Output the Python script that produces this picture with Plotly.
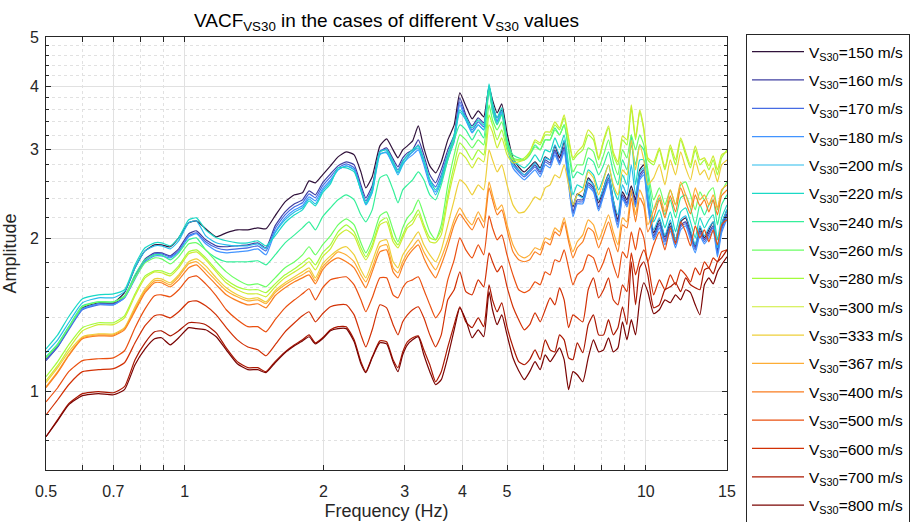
import math
import plotly.graph_objects as go

# Frequency axis (Hz)
freq = [0.50, 0.53, 0.56, 0.60, 0.65, 0.70, 0.74, 0.78, 0.82, 0.86, 0.89, 0.93, 0.97, 1.02, 1.06,
        1.11, 1.17, 1.23, 1.30, 1.37, 1.44, 1.50,
        1.57, 1.65, 1.73, 1.80, 1.86, 1.92, 1.99, 2.07,
        2.15, 2.24, 2.33, 2.41, 2.47, 2.55, 2.65, 2.74, 2.83, 2.90, 2.97, 3.04,
        3.12, 3.21, 3.30, 3.40, 3.50,
        3.60, 3.72, 3.84, 3.95, 4.07, 4.20, 4.33, 4.45, 4.57, 4.65, 4.76, 4.87, 5.00,
        5.15, 5.30, 5.45, 5.60, 5.75, 5.90, 6.05, 6.20, 6.35, 6.50, 6.65, 6.80, 6.95, 7.10,
        7.30, 7.50, 7.70, 7.90, 8.10, 8.30, 8.50, 8.70, 8.90, 9.10, 9.30, 9.50, 9.70, 9.90, 10.1,
        10.4, 10.7, 11.0, 11.3, 11.6, 11.9, 12.2, 12.5, 12.8, 13.1, 13.4, 13.7, 14.0, 14.3, 14.6, 15.0]

# Amplitude of VACF for each Vs30 case
amp_150 = [1.160, 1.230, 1.336, 1.462, 1.496, 1.496, 1.566, 1.753, 1.893, 1.946, 1.946, 1.929, 2.009, 2.151, 2.170,
           2.093, 2.018, 2.055, 2.083, 2.083, 2.102, 2.093,
           2.220, 2.365, 2.442, 2.464, 2.602, 2.579, 2.674, 2.785,
           2.901, 2.968, 2.928, 2.710, 2.521, 2.650, 3.050, 3.148, 2.995, 2.888, 2.995, 3.050,
           3.120, 3.339, 3.022, 2.785, 2.698,
           2.836, 3.134, 3.354, 3.879, 3.656, 3.447, 3.575, 3.479, 3.985, 3.757, 3.542, 3.689, 3.235,
           2.888, 2.773, 2.710, 2.773, 2.836, 2.760, 2.901, 2.862, 3.050, 2.888, 3.106, 2.674, 2.312, 2.453,
           2.420, 2.637, 2.555, 2.355, 2.521, 2.686, 2.387, 2.180, 2.475, 2.387, 2.544, 2.387, 2.735, 2.798, 2.420,
           2.055, 2.180, 2.018, 2.151, 1.991, 2.160, 2.200, 2.064, 1.937, 2.102, 2.009, 2.083, 2.160, 1.902, 2.131, 2.281]
amp_160 = [1.150, 1.224, 1.330, 1.455, 1.489, 1.489, 1.537, 1.690, 1.826, 1.876, 1.876, 1.851, 1.911, 2.046, 2.074,
           1.991, 1.937, 1.929, 1.937, 1.946, 1.964, 1.920,
           2.121, 2.260, 2.344, 2.387, 2.487, 2.442, 2.579, 2.686,
           2.785, 2.836, 2.798, 2.555, 2.409, 2.544, 2.968, 3.022, 2.875, 2.773, 2.888, 2.954,
           2.995, 3.134, 2.928, 2.674, 2.579,
           2.735, 2.995, 3.205, 3.792, 3.510, 3.339, 3.463, 3.385, 4.003, 3.673, 3.463, 3.591, 3.134,
           2.836, 2.735, 2.674, 2.735, 2.798, 2.710, 2.862, 2.823, 2.995, 2.836, 3.036, 2.614, 2.260, 2.387,
           2.387, 2.579, 2.521, 2.312, 2.475, 2.637, 2.333, 2.160, 2.442, 2.355, 2.498, 2.355, 2.674, 2.735, 2.387,
           2.027, 2.151, 1.991, 2.121, 1.964, 2.131, 2.160, 2.036, 1.920, 2.074, 1.991, 2.055, 2.121, 1.885, 2.102, 2.240]
amp_170 = [1.155, 1.224, 1.323, 1.449, 1.482, 1.482, 1.530, 1.675, 1.810, 1.868, 1.868, 1.843, 1.893, 2.027, 2.055,
           1.973, 1.920, 1.902, 1.911, 1.920, 1.937, 1.893,
           2.093, 2.230, 2.312, 2.355, 2.453, 2.409, 2.544, 2.650,
           2.760, 2.811, 2.760, 2.521, 2.376, 2.509, 2.981, 2.995, 2.836, 2.735, 2.849, 2.915,
           2.968, 3.064, 2.862, 2.614, 2.532,
           2.674, 2.941, 3.148, 3.723, 3.463, 3.279, 3.400, 3.324, 3.967, 3.623, 3.415, 3.559, 3.092,
           2.798, 2.710, 2.650, 2.710, 2.773, 2.686, 2.836, 2.798, 2.968, 2.823, 3.009, 2.590, 2.240, 2.365,
           2.365, 2.555, 2.498, 2.292, 2.453, 2.614, 2.312, 2.131, 2.420, 2.333, 2.475, 2.333, 2.637, 2.710, 2.355,
           2.009, 2.131, 1.973, 2.102, 1.946, 2.112, 2.141, 2.018, 1.902, 2.055, 1.973, 2.036, 2.102, 1.868, 2.083, 2.220]
amp_180 = [1.170, 1.236, 1.336, 1.455, 1.489, 1.482, 1.530, 1.667, 1.802, 1.851, 1.851, 1.834, 1.885, 2.018, 2.046,
           1.955, 1.893, 1.876, 1.885, 1.893, 1.911, 1.859,
           2.064, 2.200, 2.281, 2.323, 2.420, 2.376, 2.509, 2.614,
           2.735, 2.785, 2.735, 2.487, 2.344, 2.475, 2.941, 2.954, 2.798, 2.698, 2.811, 2.875,
           2.928, 2.995, 2.798, 2.555, 2.475,
           2.614, 2.888, 3.106, 3.673, 3.431, 3.235, 3.354, 3.279, 3.967, 3.591, 3.369, 3.526, 3.050,
           2.760, 2.674, 2.614, 2.674, 2.735, 2.650, 2.798, 2.760, 2.928, 2.798, 2.968, 2.555, 2.210, 2.344,
           2.344, 2.532, 2.475, 2.271, 2.431, 2.590, 2.292, 2.102, 2.398, 2.312, 2.453, 2.312, 2.614, 2.674, 2.323,
           1.991, 2.102, 1.946, 2.074, 1.920, 2.083, 2.121, 1.991, 1.876, 2.027, 1.955, 2.009, 2.074, 1.843, 2.055, 2.190]
amp_200 = [1.192, 1.264, 1.366, 1.496, 1.530, 1.530, 1.573, 1.753, 1.893, 1.937, 1.937, 1.911, 1.982, 2.151, 2.170,
           2.027, 1.964, 1.946, 1.937, 1.937, 1.955, 1.911,
           2.055, 2.180, 2.260, 2.302, 2.398, 2.344, 2.487, 2.590,
           2.735, 2.785, 2.735, 2.498, 2.333, 2.464, 2.928, 2.968, 2.798, 2.674, 2.798, 2.888,
           2.968, 3.022, 2.836, 2.590, 2.442,
           2.590, 2.862, 3.134, 3.559, 3.431, 3.249, 3.354, 3.279, 4.003, 3.623, 3.400, 3.559, 3.064,
           2.798, 2.735, 2.674, 2.735, 2.823, 2.735, 2.888, 2.862, 3.064, 2.928, 3.134, 2.674, 2.333, 2.442,
           2.409, 2.614, 2.555, 2.387, 2.521, 2.674, 2.387, 2.230, 2.555, 2.442, 2.798, 2.442, 2.710, 2.760, 2.442,
           2.083, 2.200, 2.027, 2.180, 1.991, 2.180, 2.220, 2.083, 1.946, 2.121, 2.027, 2.102, 2.160, 1.920, 2.141, 2.281]
amp_220 = [1.213, 1.293, 1.404, 1.523, 1.551, 1.558, 1.587, 1.777, 1.920, 1.964, 1.964, 1.937, 2.009, 2.180, 2.200,
           2.083, 2.009, 1.982, 1.964, 1.964, 1.982, 1.937,
           2.027, 2.151, 2.230, 2.281, 2.376, 2.323, 2.464, 2.567,
           2.760, 2.760, 2.710, 2.498, 2.355, 2.498, 2.968, 2.995, 2.836, 2.710, 2.836, 2.928,
           2.995, 3.050, 2.862, 2.614, 2.498,
           2.637, 2.928, 3.205, 3.591, 3.463, 3.309, 3.431, 3.354, 4.040, 3.706, 3.463, 3.623, 3.134,
           2.862, 2.798, 2.760, 2.823, 2.928, 2.836, 2.995, 2.968, 3.162, 3.022, 3.205, 2.798, 2.442, 2.555,
           2.521, 2.735, 2.674, 2.498, 2.637, 2.798, 2.521, 2.387, 2.674, 2.555, 3.205, 2.555, 2.862, 2.862, 2.555,
           2.160, 2.281, 2.102, 2.260, 2.064, 2.260, 2.302, 2.160, 2.009, 2.200, 2.102, 2.180, 2.230, 1.991, 2.200, 2.333]
amp_240 = [1.170, 1.241, 1.342, 1.475, 1.502, 1.502, 1.544, 1.698, 1.818, 1.859, 1.859, 1.818, 1.876, 1.991, 2.009,
           1.902, 1.834, 1.802, 1.802, 1.802, 1.810, 1.777,
           1.859, 1.964, 2.036, 2.102, 2.160, 2.083, 2.210, 2.302,
           2.387, 2.442, 2.387, 2.230, 2.160, 2.281, 2.637, 2.674, 2.498, 2.355, 2.498, 2.555,
           2.614, 2.710, 2.614, 2.442, 2.387,
           2.555, 2.862, 3.134, 3.354, 3.279, 3.134, 3.279, 3.162, 3.932, 3.559, 3.354, 3.510, 3.134,
           2.928, 2.888, 2.862, 2.928, 3.064, 2.995, 3.134, 3.134, 3.309, 3.205, 3.354, 2.995, 2.637, 2.710,
           2.674, 2.888, 2.836, 2.674, 2.798, 2.968, 2.710, 2.555, 2.862, 2.735, 3.064, 2.798, 3.064, 2.995, 2.674,
           2.281, 2.409, 2.230, 2.387, 2.200, 2.409, 2.442, 2.302, 2.131, 2.333, 2.230, 2.333, 2.387, 2.131, 2.333, 2.442]
amp_260 = [1.165, 1.236, 1.336, 1.469, 1.502, 1.502, 1.537, 1.675, 1.793, 1.834, 1.826, 1.785, 1.843, 1.955, 1.964,
           1.902, 1.802, 1.721, 1.660, 1.623, 1.630, 1.608,
           1.675, 1.753, 1.802, 1.859, 1.929, 1.859, 1.946, 2.027,
           2.131, 2.190, 2.131, 1.964, 1.876, 1.991, 2.220, 2.260, 2.083, 1.973, 2.102, 2.200,
           2.260, 2.387, 2.230, 2.064, 1.991,
           2.131, 2.555, 2.928, 3.205, 3.134, 3.022, 3.134, 3.064, 3.673, 3.431, 3.279, 3.400, 3.064,
           2.888, 2.862, 2.862, 2.928, 3.036, 2.995, 3.134, 3.134, 3.279, 3.205, 3.354, 3.022, 2.710, 2.798,
           2.798, 3.022, 2.968, 2.760, 2.928, 3.134, 2.836, 2.674, 2.995, 2.888, 3.205, 2.995, 3.205, 3.064, 2.735,
           2.387, 2.521, 2.333, 2.498, 2.333, 2.555, 2.590, 2.442, 2.281, 2.475, 2.387, 2.475, 2.521, 2.281, 2.475, 2.590]
amp_280 = [1.069, 1.145, 1.236, 1.336, 1.366, 1.366, 1.410, 1.558, 1.690, 1.729, 1.729, 1.706, 1.769, 1.885, 1.902,
           1.834, 1.737, 1.660, 1.608, 1.587, 1.587, 1.566,
           1.630, 1.698, 1.745, 1.793, 1.834, 1.777, 1.876, 1.946,
           2.064, 2.131, 2.064, 1.920, 1.843, 1.946, 2.160, 2.200, 2.009, 1.946, 2.036, 2.131,
           2.180, 2.281, 2.131, 2.009, 1.991,
           2.083, 2.442, 2.798, 3.092, 2.995, 2.862, 2.995, 2.928, 3.510, 3.354, 3.134, 3.279, 2.995,
           2.862, 2.862, 2.888, 2.968, 3.106, 3.064, 3.205, 3.205, 3.354, 3.279, 3.463, 3.134, 2.862, 2.928,
           2.995, 3.205, 3.134, 2.862, 3.106, 3.309, 2.928, 2.798, 3.134, 3.064, 3.623, 3.134, 3.559, 3.279, 2.862,
           2.798, 2.995, 2.735, 3.022, 2.798, 3.134, 2.928, 2.760, 2.995, 2.798, 2.862, 2.735, 2.862, 2.674, 2.888, 2.995]
amp_300 = [1.050, 1.124, 1.213, 1.317, 1.354, 1.354, 1.397, 1.544, 1.675, 1.721, 1.714, 1.690, 1.753, 1.868, 1.885,
           1.818, 1.721, 1.638, 1.587, 1.558, 1.558, 1.537,
           1.608, 1.675, 1.721, 1.761, 1.802, 1.737, 1.843, 1.911,
           2.027, 2.083, 2.027, 1.885, 1.818, 1.920, 2.131, 2.160, 1.973, 1.920, 2.009, 2.102,
           2.141, 2.240, 2.102, 1.973, 1.964,
           2.036, 2.387, 2.710, 2.954, 2.888, 2.760, 2.888, 2.836, 3.354, 3.249, 3.022, 3.162, 2.928,
           2.823, 2.836, 2.862, 2.954, 3.134, 3.092, 3.249, 3.249, 3.400, 3.309, 3.510, 3.162, 2.888, 2.968,
           3.050, 3.279, 3.191, 2.888, 3.134, 3.339, 2.968, 2.836, 3.191, 3.134, 3.673, 3.162, 3.591, 3.309, 2.888,
           2.836, 3.022, 2.760, 3.064, 2.862, 3.162, 2.968, 2.798, 3.050, 2.862, 2.888, 2.785, 2.915, 2.735, 2.928, 2.968]
amp_333 = [1.041, 1.114, 1.197, 1.282, 1.299, 1.299, 1.336, 1.469, 1.594, 1.667, 1.667, 1.638, 1.698, 1.802, 1.826,
           1.769, 1.675, 1.601, 1.551, 1.523, 1.530, 1.502,
           1.580, 1.638, 1.683, 1.721, 1.753, 1.675, 1.785, 1.851,
           1.902, 1.929, 1.859, 1.737, 1.675, 1.802, 1.973, 1.991, 1.802, 1.753, 1.859, 1.920,
           1.991, 2.064, 1.946, 1.859, 1.802,
           1.902, 2.131, 2.387, 2.614, 2.555, 2.442, 2.555, 2.498, 2.995, 2.862, 2.710, 2.798, 2.555,
           2.333, 2.250, 2.260, 2.333, 2.420, 2.387, 2.521, 2.555, 2.674, 2.637, 2.798, 2.555, 2.333, 2.442,
           2.498, 2.710, 2.637, 2.442, 2.614, 2.798, 2.555, 2.442, 2.735, 2.674, 3.134, 2.735, 3.064, 2.862, 2.555,
           2.637, 2.798, 2.555, 2.862, 2.674, 2.968, 2.760, 2.614, 2.862, 2.674, 2.735, 2.614, 2.760, 2.590, 2.798, 2.862]
amp_367 = [1.022, 1.094, 1.181, 1.276, 1.293, 1.293, 1.330, 1.455, 1.580, 1.652, 1.652, 1.623, 1.683, 1.785, 1.802,
           1.737, 1.652, 1.580, 1.537, 1.509, 1.516, 1.489,
           1.566, 1.623, 1.667, 1.698, 1.729, 1.652, 1.761, 1.826,
           1.885, 1.859, 1.802, 1.698, 1.645, 1.753, 1.929, 1.946, 1.753, 1.714, 1.802, 1.876,
           1.929, 1.991, 1.885, 1.802, 1.737,
           1.834, 1.991, 2.180, 2.302, 2.200, 2.131, 2.260, 2.160, 2.590, 2.442, 2.281, 2.333, 2.131,
           1.946, 1.859, 1.834, 1.859, 1.920, 1.902, 2.009, 1.991, 2.102, 2.064, 2.200, 2.009, 1.885, 1.973,
           2.036, 2.180, 2.131, 1.991, 2.102, 2.230, 2.064, 1.946, 2.200, 2.160, 2.498, 2.230, 2.498, 2.387, 2.131,
           2.281, 2.442, 2.260, 2.498, 2.333, 2.590, 2.442, 2.302, 2.521, 2.387, 2.442, 2.333, 2.442, 2.302, 2.498, 2.555]
amp_400 = [1.017, 1.089, 1.176, 1.270, 1.287, 1.287, 1.323, 1.442, 1.566, 1.638, 1.638, 1.608, 1.660, 1.753, 1.777,
           1.706, 1.623, 1.551, 1.509, 1.482, 1.489, 1.462,
           1.544, 1.601, 1.645, 1.675, 1.698, 1.630, 1.737, 1.802,
           1.834, 1.802, 1.753, 1.660, 1.601, 1.721, 1.885, 1.902, 1.721, 1.675, 1.769, 1.843,
           1.902, 1.946, 1.834, 1.737, 1.675,
           1.777, 1.937, 2.131, 2.240, 2.160, 2.083, 2.200, 2.102, 2.521, 2.387, 2.230, 2.281, 2.083,
           1.885, 1.818, 1.802, 1.818, 1.885, 1.859, 1.973, 1.946, 2.064, 2.027, 2.160, 1.973, 1.834, 1.920,
           1.973, 2.102, 2.064, 1.920, 2.036, 2.160, 2.009, 1.885, 2.131, 2.102, 2.409, 2.160, 2.409, 2.323, 2.064,
           2.200, 2.387, 2.200, 2.431, 2.260, 2.521, 2.365, 2.240, 2.442, 2.323, 2.387, 2.260, 2.387, 2.230, 2.431, 2.498]
amp_500 = [0.954, 1.017, 1.094, 1.150, 1.160, 1.165, 1.203, 1.336, 1.455, 1.544, 1.551, 1.537, 1.587, 1.675, 1.690,
           1.630, 1.544, 1.449, 1.385, 1.342, 1.342, 1.311,
           1.385, 1.462, 1.516, 1.558, 1.594, 1.516, 1.601, 1.660,
           1.675, 1.683, 1.623, 1.516, 1.436, 1.530, 1.675, 1.675, 1.551, 1.530, 1.601, 1.645,
           1.660, 1.683, 1.587, 1.482, 1.397,
           1.449, 1.660, 1.818, 2.009, 1.902, 1.834, 1.946, 1.859, 2.220, 2.102, 1.991, 2.036, 1.859,
           1.698, 1.587, 1.566, 1.587, 1.645, 1.623, 1.721, 1.698, 1.818, 1.802, 1.902, 1.753, 1.623, 1.698,
           1.737, 1.859, 1.834, 1.721, 1.802, 1.920, 1.777, 1.675, 1.885, 1.834, 2.064, 1.902, 2.102, 2.009, 1.802,
           1.946, 2.064, 1.902, 2.102, 1.955, 2.160, 2.064, 1.937, 2.121, 2.009, 2.083, 1.973, 2.083, 1.946, 2.131, 2.180]
amp_600 = [0.899, 0.963, 1.031, 1.094, 1.104, 1.109, 1.139, 1.247, 1.348, 1.410, 1.416, 1.397, 1.436, 1.502, 1.509,
           1.475, 1.416, 1.336, 1.264, 1.224, 1.208, 1.176,
           1.236, 1.311, 1.366, 1.410, 1.436, 1.372, 1.423, 1.469,
           1.482, 1.482, 1.416, 1.293, 1.224, 1.323, 1.482, 1.462, 1.354, 1.293, 1.372, 1.416,
           1.449, 1.469, 1.397, 1.293, 1.224,
           1.293, 1.516, 1.587, 1.721, 1.573, 1.551, 1.660, 1.608, 1.876, 1.802, 1.721, 1.769, 1.608,
           1.469, 1.385, 1.323, 1.354, 1.429, 1.372, 1.449, 1.530, 1.482, 1.601, 1.516, 1.336, 1.416, 1.397,
           1.372, 1.587, 1.675, 1.530, 1.587, 1.675, 1.516, 1.482, 1.623, 1.573, 1.876, 1.698, 1.818, 1.902, 1.802,
           1.551, 1.660, 1.587, 1.698, 1.623, 1.737, 1.698, 1.645, 1.753, 1.698, 1.802, 1.753, 1.834, 1.802, 1.885, 1.902]
amp_700 = [0.814, 0.880, 0.946, 0.990, 0.999, 0.994, 1.022, 1.155, 1.247, 1.311, 1.317, 1.287, 1.317, 1.366, 1.366,
           1.354, 1.305, 1.219, 1.145, 1.114, 1.114, 1.094,
           1.145, 1.197, 1.236, 1.264, 1.293, 1.247, 1.276, 1.323,
           1.342, 1.342, 1.264, 1.145, 1.094, 1.170, 1.258, 1.253, 1.155, 1.114, 1.197, 1.253,
           1.276, 1.287, 1.208, 1.129, 1.045,
           1.094, 1.224, 1.354, 1.469, 1.372, 1.336, 1.397, 1.342, 1.623, 1.516, 1.436, 1.496, 1.342,
           1.224, 1.145, 1.129, 1.155, 1.208, 1.155, 1.264, 1.208, 1.197, 1.293, 1.264, 1.165, 1.155, 1.247,
           1.192, 1.354, 1.416, 1.293, 1.293, 1.385, 1.293, 1.336, 1.469, 1.354, 1.802, 1.482, 1.753, 1.802, 1.698,
           1.462, 1.482, 1.587, 1.608, 1.638, 1.573, 1.675, 1.623, 1.601, 1.587, 1.737, 1.753, 1.706, 1.802, 1.834, 1.902]
amp_800 = [0.814, 0.876, 0.941, 0.981, 0.990, 0.985, 1.008, 1.129, 1.213, 1.270, 1.276, 1.236, 1.276, 1.336, 1.330,
           1.323, 1.282, 1.208, 1.134, 1.104, 1.104, 1.089,
           1.139, 1.192, 1.230, 1.258, 1.282, 1.241, 1.270, 1.317,
           1.330, 1.330, 1.253, 1.134, 1.089, 1.165, 1.247, 1.241, 1.145, 1.094, 1.181, 1.236,
           1.264, 1.282, 1.181, 1.094, 1.031,
           1.055, 1.170, 1.323, 1.462, 1.385, 1.276, 1.323, 1.282, 1.573, 1.449, 1.354, 1.416, 1.293,
           1.165, 1.099, 1.055, 1.094, 1.145, 1.104, 1.181, 1.145, 1.181, 1.219, 1.155, 1.008, 1.094, 1.079,
           1.045, 1.165, 1.264, 1.197, 1.208, 1.276, 1.197, 1.219, 1.372, 1.264, 1.385, 1.293, 1.516, 1.638, 1.573,
           1.423, 1.449, 1.516, 1.496, 1.551, 1.516, 1.587, 1.566, 1.482, 1.416, 1.623, 1.675, 1.630, 1.721, 1.777, 1.843]

vs30_values = [150, 160, 170, 180, 200, 220, 240, 260, 280, 300, 333, 367, 400, 500, 600, 700, 800]
series = [amp_150, amp_160, amp_170, amp_180, amp_200, amp_220, amp_240, amp_260, amp_280,
          amp_300, amp_333, amp_367, amp_400, amp_500, amp_600, amp_700, amp_800]
# Turbo-style palette from low to high Vs30
line_colors = ["#30123b", "#4040a2", "#466be3", "#4294ff", "#28bceb", "#1ad9c6", "#35ef9a",
               "#6bfe64", "#a4fc3c", "#cdec34", "#eecf3a", "#fdad35", "#fa7d20", "#ea5010",
               "#d23105", "#ab1701", "#7a0403"]

x_ticks = [0.5, 0.7, 1, 2, 3, 4, 5, 10, 15]
x_ticktext = ["0.5", "0.7", "1", "2", "3", "4", "5", "10", "15"]
x_minor = [0.6, 0.8, 0.9, 6, 7, 8, 9]
y_ticks = [1, 2, 3, 4, 5]
y_minor = [0.8, 0.9, 1.2, 1.4, 1.6, 1.8, 2.2, 2.4, 2.6, 2.8, 3.2, 3.4, 3.6, 3.8, 4.2, 4.4, 4.6, 4.8]

FONT = "Liberation Sans, Arial, Helvetica, sans-serif"
AX = "#262626"
GRID = "#e1e1e1"

fig = go.Figure()
for v, amp, col in zip(vs30_values, series, line_colors):
    fig.add_trace(go.Scatter(
        x=freq, y=amp, mode="lines",
        name=f"V<sub>S30</sub>={v} m/s",
        legendgroup=str(v),
        line=dict(color=col, width=1.2, shape="spline", smoothing=0.5),
    ))

axis_common = dict(
    showline=True, linecolor=AX, linewidth=1, mirror="allticks",
    ticks="inside", ticklen=5, tickcolor=AX, tickwidth=1,
    showgrid=True, gridcolor=GRID, gridwidth=1,
    tickfont=dict(family=FONT, size=16, color=AX),
    zeroline=False,
)

fig.update_xaxes(
    type="log", range=[math.log10(0.5), math.log10(15)],
    tickmode="array", tickvals=x_ticks, ticktext=x_ticktext,
    ticklabelstandoff=7,
    minor=dict(tickmode="array", tickvals=x_minor, ticks="inside", ticklen=5, tickcolor=AX,
               showgrid=True, gridcolor=GRID, griddash="dot"),
    title=dict(text="Frequency (Hz)", font=dict(family=FONT, size=18, color=AX), standoff=5),
    **axis_common,
)
fig.update_yaxes(
    type="log", range=[math.log10(0.7), math.log10(5)],
    tickmode="array", tickvals=y_ticks, ticktext=[str(t) for t in y_ticks],
    ticklabelstandoff=3,
    minor=dict(tickmode="array", tickvals=y_minor, ticks="inside", ticklen=3, tickcolor=AX,
               showgrid=True, gridcolor=GRID, griddash="dot"),
    title=dict(text="Amplitude", font=dict(family=FONT, size=18, color=AX), standoff=8),
    **axis_common,
)

fig.update_layout(
    width=911, height=522,
    margin=dict(l=46, r=184, t=37, b=52, autoexpand=False),
    paper_bgcolor="white", plot_bgcolor="white",
    title=dict(text="VACF<sub>VS30</sub> in the cases of different V<sub>S30</sub> values",
               x=0.5, xref="paper", xanchor="center",
               y=1 - 20 / 522, yref="container", yanchor="middle",
               font=dict(family=FONT, size=19, color="#000000")),
    legend=dict(
        x=746 / 911, xref="container", xanchor="left",
        y=1 - 34 / 522, yref="container", yanchor="top",
        bordercolor=AX, borderwidth=1, bgcolor="white",
        font=dict(family=FONT, size=15.5, color="#000000"),
        itemwidth=52, tracegroupgap=5.2,
    ),
    showlegend=True,
)
# let the legend use the full figure height instead of scrolling
try:
    fig.update_layout(legend_maxheight=520)
except (ValueError, KeyError):
    pass

fig.write_html("out.html")
